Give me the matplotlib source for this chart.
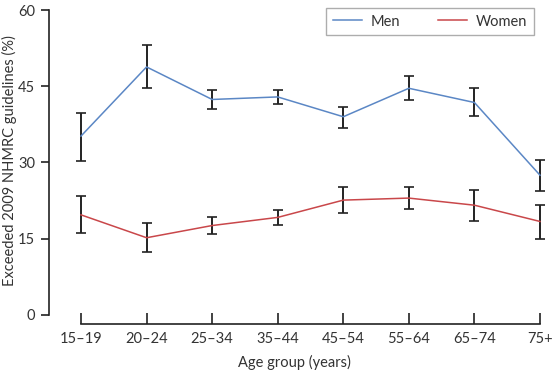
import numpy as np
import matplotlib.pyplot as plt

plt.rcParams['font.family'] = ['Lato', 'DejaVu Sans']

# Data
age_groups = ['15–19', '20–24', '25–34', '35–44', '45–54', '55–64', '65–74', '75+']
men = [35.2, 48.8, 42.4, 42.9, 39.0, 44.6, 41.8, 27.5]
men_lo = [30.3, 44.7, 40.5, 41.5, 36.8, 42.3, 39.1, 24.4]
men_hi = [39.7, 53.1, 44.3, 44.3, 40.9, 47.0, 44.6, 30.5]
women = [19.7, 15.2, 17.6, 19.2, 22.6, 23.0, 21.6, 18.4]
women_lo = [16.2, 12.4, 15.9, 17.8, 20.1, 20.8, 18.5, 14.9]
women_hi = [23.4, 18.0, 19.2, 20.7, 25.1, 25.1, 24.6, 21.7]

text_col = '#333333'
fs = 10.5
x = np.arange(len(age_groups))

fig = plt.figure(figsize=(5.55, 3.75), dpi=100)
ax = fig.add_axes([49 / 555, 51 / 375, 491 / 555, 314 / 375])

for vals, lo, hi, col, name in [(men, men_lo, men_hi, '#5b87c5', 'Men'),
                                (women, women_lo, women_hi, '#c9474a', 'Women')]:
    vals = np.array(vals)
    err = [vals - np.array(lo), np.array(hi) - vals]
    ax.plot(x, vals, color=col, lw=1.1, label=name, zorder=3, clip_on=False)
    ax.errorbar(x, vals, yerr=err, fmt='none', ecolor='#222222', elinewidth=1.4,
                capsize=3.5, capthick=1.2, zorder=2, clip_on=False)

ax.set_xlim(-32 / 65.57, 7)
ax.set_ylim(-9 / 5.083, 60)
ax.set_yticks([0, 15, 30, 45, 60])
ax.set_xticks(x)
ax.set_xticklabels(age_groups)

for s in ['top', 'right']:
    ax.spines[s].set_visible(False)
ax.spines['left'].set_bounds(0, 60)
ax.spines['bottom'].set_bounds(0, 7)
for s in ['left', 'bottom']:
    ax.spines[s].set_color('#222222')
    ax.spines[s].set_linewidth(1.2)

ax.tick_params(axis='y', direction='out', length=6, width=1.2, colors='#222222',
               labelcolor=text_col, labelsize=fs, pad=4)
ax.tick_params(axis='x', direction='in', length=8, width=1.2, colors='#222222',
               labelcolor=text_col, labelsize=fs, pad=6)

ax.set_xlabel('Age group (years)', fontsize=fs, color=text_col, labelpad=6)
ax.set_ylabel('Exceeded 2009 NHMRC guidelines (%)', fontsize=fs, color=text_col)
ax.yaxis.set_label_coords(-32 / 491, 163 / 314)

leg = ax.legend(loc='upper right', ncol=2, frameon=True, fancybox=False, fontsize=fs,
                handlelength=2.0, handletextpad=0.6, columnspacing=2.6,
                borderpad=0.45, borderaxespad=0,
                bbox_to_anchor=(534 / 555, 1 - 8 / 375), bbox_transform=fig.transFigure)
leg.get_frame().set_edgecolor('#999999')
leg.get_frame().set_linewidth(1.0)
for t in leg.get_texts():
    t.set_color(text_col)

fig.savefig('out.png', dpi=100)
